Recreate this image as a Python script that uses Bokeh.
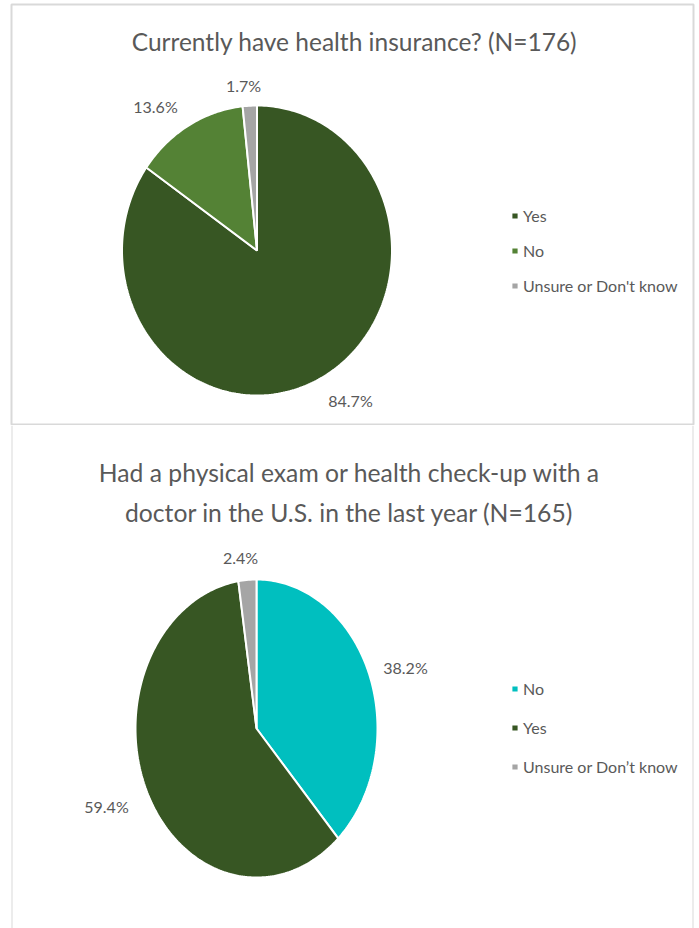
import numpy as np
from bokeh.plotting import figure
from bokeh.models import Range1d, Label, Legend, LegendItem, ColumnDataSource, Span
from bokeh.layouts import column
from bokeh.embed import file_html
from bokeh.resources import INLINE

# ---------------- data ----------------
title1 = "Currently have health insurance? (N=176)"
cats1 = ["Yes", "No", "Unsure or Don't know"]
vals1 = [84.7, 13.6, 1.7]

title2_lines = ["Had a physical exam or health check-up with a",
                "doctor in the U.S. in the last year (N=165)"]
cats2 = ["No", "Yes", "Unsure or Don\u2019t know"]
vals2 = [38.2, 59.4, 2.4]

colors1 = ["#375623", "#548235", "#A5A5A5"]
colors2 = ["#00BFBF", "#375623", "#A5A5A5"]

# ---------------- layout (page pixels) ----------------
FONT = "Lato"
TXT = "#595959"
BORDER = "#D9D9D9"
PAGE_L, PAGE_T = 0, 0
FRAME_L = 11
FRAME_W = 682


def make_panel(top_page, h, min_top, cx, cy, rx, ry):
    frame_top = top_page + min_top
    fh = h - min_top
    x0 = -(cx - FRAME_L) / rx
    x1 = x0 + FRAME_W / rx
    y1 = (cy - frame_top) / ry
    y0 = y1 - fh / ry
    p = figure(width=FRAME_W + (FRAME_L - PAGE_L) + 2, height=h,
               x_range=Range1d(x0, x1), y_range=Range1d(y0, y1),
               output_backend="svg", toolbar_location=None,
               x_axis_location=None, y_axis_location=None,
               min_border=0, min_border_left=FRAME_L - PAGE_L,
               min_border_right=2, min_border_top=min_top)
    p.grid.visible = False
    p.background_fill_color = "white"
    p.border_fill_color = "white"

    def d(px, py):
        return (px - cx) / rx, (cy - py) / ry
    return p, d, (x0, x1, y0, y1)


def pie_patches(vals):
    total = float(sum(vals))
    xs, ys = [], []
    start = 0.0
    for v in vals:
        end = start + v / total * 2 * np.pi
        n = max(3, int(np.degrees(end - start)) + 2)
        t = np.linspace(start, end, n)
        xs.append([0.0] + list(np.sin(t)) + [0.0])
        ys.append([0.0] + list(np.cos(t)) + [0.0])
        start = end
    return xs, ys


def add_pie(p, cats, vals, colors, legend_xy, spacing):
    xs, ys = pie_patches(vals)
    src = ColumnDataSource(dict(xs=xs, ys=ys, color=colors, cat=cats))
    r = p.patches("xs", "ys", source=src, fill_color="color",
                  line_color="white", line_width=2)
    items = [LegendItem(label=c, renderers=[r], index=i) for i, c in enumerate(cats)]
    leg = Legend(items=items, location=legend_xy, orientation="vertical",
                 glyph_width=9, glyph_height=9, label_standoff=4,
                 label_text_font=FONT, label_text_font_size="16px",
                 label_text_color=TXT, border_line_color=None,
                 background_fill_alpha=0, padding=0, margin=0,
                 spacing=spacing, label_height=20)
    p.add_layout(leg)


def add_text(p, d, text, px, py, size):
    x, y = d(px, py)
    p.add_layout(Label(x=x, y=y, text=text, text_align="center",
                       text_baseline="middle", text_font=FONT,
                       text_font_size=size, text_color=TXT))


# ---------------- panel 1 ----------------
H1 = 425
p1, d1, _ = make_panel(PAGE_T, H1, 4, 256.5, 250, 135, 145)
p1.outline_line_color = BORDER
p1.outline_line_width = 2
add_pie(p1, cats1, vals1, colors1, (499, 130), 15)
add_text(p1, d1, title1, 354, 41, "24.5px")
lab_pos1 = [(350, 400), (155, 106), (243, 85)]
for v, (px, py) in zip(vals1, lab_pos1):
    add_text(p1, d1, f"{v:.1f}%", px, py, "16px")

# ---------------- panel 2 ----------------
H2 = 928 - PAGE_T - H1
p2, d2, (x0, x1, y0, y1) = make_panel(PAGE_T + H1, H2, 0, 256, 728, 121, 149)
p2.outline_line_color = None
for loc in (x0, x1):
    p2.add_layout(Span(location=loc, dimension="height", line_color=BORDER, line_width=2))
add_pie(p2, cats2, vals2, colors2, (499, 152), 19)
add_text(p2, d2, title2_lines[0], 349, 472, "24.7px")
add_text(p2, d2, title2_lines[1], 349, 512, "24.7px")
lab_pos2 = [(405, 667), (106, 806), (240, 557)]
for v, (px, py) in zip(vals2, lab_pos2):
    add_text(p2, d2, f"{v:.1f}%", px, py, "16px")

layout = column(p1, p2, spacing=0)
open("out.html", "w").write(file_html(layout, INLINE))
